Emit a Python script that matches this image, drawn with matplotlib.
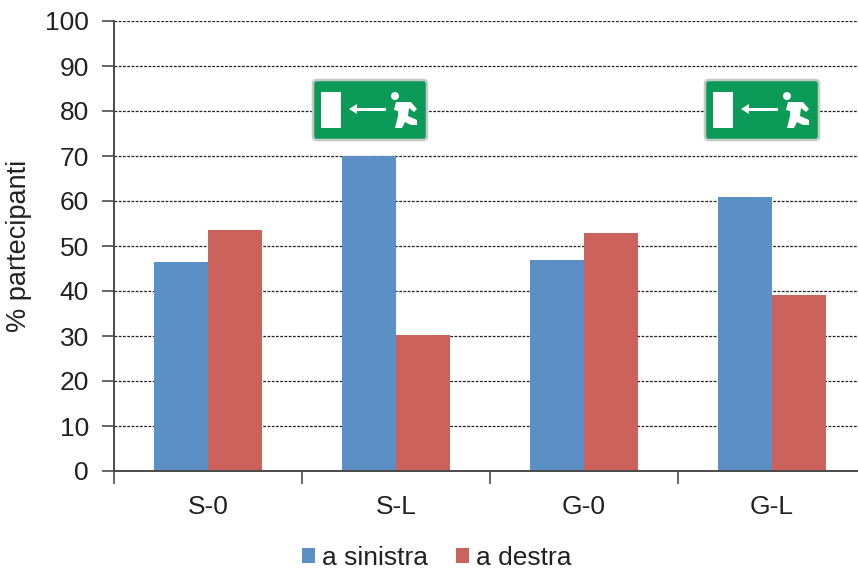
import numpy as np
from matplotlib import pyplot as plt
from matplotlib.patches import FancyBboxPatch, Rectangle, Circle, Polygon

plt.rcParams['font.family'] = ['Liberation Sans', 'DejaVu Sans']

W, H = 858, 570

groups = ['S-0', 'S-L', 'G-0', 'G-L']
a_sinistra = [46.5, 70.0, 46.8, 60.8]
a_destra = [53.5, 30.2, 53.0, 39.2]
yticks = list(range(0, 101, 10))

BLUE = '#5b8fc5'
RED = '#cb625c'
TEXT = '#222222'
AXIS = '#4a4a4a'
FS = 19


def draw_sign(fig, cx, cy):
    # exit sign, drawn in its own little axes (pixel box 118x64)
    w, h = 118, 64
    ax = fig.add_axes([(cx - w / 2) / W, 1 - (cy + h / 2) / H, w / W, h / H])
    ax.set_xlim(0, w)
    ax.set_ylim(h, 0)
    ax.axis('off')
    ax.add_patch(FancyBboxPatch((2, 2), w - 4, h - 4, boxstyle='round,pad=0,rounding_size=4',
                                fc='#0b9a58', ec='#c4cbc6', lw=1.8))
    ax.add_patch(Rectangle((10, 14), 20, 36, fc='white', ec='none'))
    # arrow
    ax.add_patch(Rectangle((44, 29.5), 31, 3.5, fc='white', ec='none'))
    ax.add_patch(Polygon([[38, 31], [46, 26], [46, 36]], fc='white', ec='none'))
    # running man
    ax.add_patch(Circle((84, 18), 4, fc='white', ec='none'))
    ax.add_patch(Polygon([[85, 24], [100, 24], [106, 31], [103, 34], [98, 30], [97, 38],
                         [106, 42], [106, 47], [100, 47], [94, 44], [91, 50],
                         [84, 50], [87, 38], [87, 33], [83, 32]],
                         fc='white', ec='none'))


fig = plt.figure(figsize=(W / 100, H / 100), dpi=100)
ax = fig.add_axes([114 / W, (H - 471) / H, (W - 114) / W, 450 / H])

x = np.arange(len(groups))
bw = 0.287
ax.bar(x - bw / 2, a_sinistra, bw, color=BLUE, label='a sinistra', zorder=3)
ax.bar(x + bw / 2, a_destra, bw, color=RED, label='a destra', zorder=3)

ax.set_xlim(-0.5, (W - 114) / 188 - 0.5)
ax.set_ylim(0, 100)
ax.set_yticks(yticks)
ax.set_xticks(x)
ax.set_xticklabels(groups)
ax.set_xticks(np.arange(-0.5, 3.5, 1), minor=True)
ax.tick_params(axis='x', which='major', length=0, pad=17, labelsize=FS, labelcolor=TEXT)
ax.tick_params(axis='x', which='minor', length=9, width=1.2, color=AXIS)
ax.tick_params(axis='y', length=9, width=1.2, color=AXIS, pad=9, labelsize=FS, labelcolor=TEXT)
ax.grid(axis='y', color='#222222', ls=(0, (2.2, 1.2)), lw=0.9, zorder=1)
ax.set_axisbelow(True)
ax.set_ylabel('% partecipanti', fontsize=FS + 0.5, color=TEXT)
ax.yaxis.set_label_coords(-82 / (W - 114), 0.5)

for side in ['top', 'right']:
    ax.spines[side].set_visible(False)
ax.spines['left'].set_color(AXIS)
ax.spines['left'].set_linewidth(1.4)
ax.spines['bottom'].set_color(AXIS)
ax.spines['bottom'].set_linewidth(1.4)
ax.spines['bottom'].set_zorder(4)

fig.legend(loc='center', bbox_to_anchor=(437 / W, 1 - 558 / H), ncol=2, frameon=False,
           fontsize=FS, handlelength=0.5, handleheight=0.5, handletextpad=0.27,
           columnspacing=1.05, borderpad=0, borderaxespad=0, labelcolor=TEXT)

draw_sign(fig, 370, 110)
draw_sign(fig, 762, 110)

fig.savefig('out.png', dpi=100)
